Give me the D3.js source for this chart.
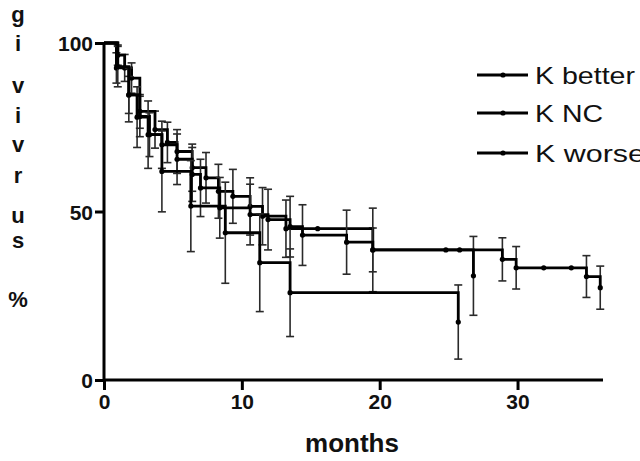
<!DOCTYPE html>
<html><head><meta charset="utf-8">
<script src="https://cdn.jsdelivr.net/npm/d3@7"></script>
<style>body{margin:0;background:#fff}svg{display:block}</style>
</head><body><svg id="c" width="640" height="461"></svg>
<script>
const seriesNames = ["K better", "K NC", "K worse"];

const betterTime = [0, 1.0, 1.5, 2.0, 2.6, 3.7, 4.6, 5.3, 6.4, 7.4, 8.3, 9.35, 10.6, 11.5, 13.2, 19.5, 28.9, 29.9, 35.0, 36.0];
const betterSurv = [100, 96.4, 92.6, 89.6, 79.7, 74.3, 70.5, 67.8, 63, 60, 56, 54.5, 51.5, 48.6, 44.9, 38.6, 35.8, 33.3, 30.7, 27.4];
const betterErr  = [0, 3, 4, 4.5, 5, 5.5, 6, 6.5, 7, 7.5, 8, 8, 8.5, 8.5, 8.5, 6.5, 6.4, 6.3, 6.2, 6.4];
const betterCensor = [15.5, 24.8, 25.8, 31.9, 33.9];

const ncTime = [0, 0.9, 1.8, 2.6, 3.3, 4.2, 5.3, 6.4, 7.0, 8.4, 10.6, 11.9, 13.5, 14.4, 17.6, 19.5, 26.8];
const ncSurv = [100, 92.6, 84.6, 78.2, 72.8, 69.8, 65.5, 61, 57, 51.1, 49.1, 47.6, 45.5, 43, 40.9, 38.6, 30.9];
const ncErr  = [0, 4.5, 5.5, 6, 6.5, 7, 7.5, 8, 8.5, 9, 9, 9, 9, 9, 9.5, 12.4, 11.7];
const ncCensor = [];

const worseTime = [0, 1.0, 1.8, 2.4, 3.2, 4.2, 6.3, 8.8, 11.3, 13.5, 25.7];
const worseSurv = [100, 93, 84.6, 78, 72.8, 61.9, 51.6, 43.7, 34.8, 25.9, 17.2];
const worseErr  = [0, 6, 8, 9, 10, 12, 13.5, 15, 14.5, 13, 11];
const worseCensor = [];

const xTicks = [0, 10, 20, 30];
const yTicks = [0, 50, 100];
const xTitle = "months";
const yTitleLetters = ["g", "i", "v", "i", "v", "r", "u", "s", "%"];

const series = [
  {name: seriesNames[0], t: betterTime, s: betterSurv, e: betterErr, c: betterCensor},
  {name: seriesNames[1], t: ncTime, s: ncSurv, e: ncErr, c: ncCensor},
  {name: seriesNames[2], t: worseTime, s: worseSurv, e: worseErr, c: worseCensor}
];

const svg = d3.select("#c");
const x = d3.scaleLinear().domain([0, 36.2]).range([104, 603]);
const y = d3.scaleLinear().domain([0, 100]).range([380, 43]);

// axes
const xAxis = svg.append("g").attr("transform", `translate(0,${y(0)})`)
  .call(d3.axisBottom(x).tickValues(xTicks).tickSize(10).tickPadding(4).tickFormat(d3.format("d")));
const yAxis = svg.append("g").attr("transform", `translate(${x(0)},0)`)
  .call(d3.axisLeft(y).tickValues(yTicks).tickSize(9).tickPadding(2).tickFormat(d3.format("d")));
[xAxis, yAxis].forEach(a => {
  a.select(".domain").attr("stroke", "#000").attr("stroke-width", 3);
  a.selectAll(".tick line").attr("stroke", "#000").attr("stroke-width", 3);
  a.selectAll(".tick text").attr("fill", "#111").attr("font-family", "Liberation Sans, Arial, sans-serif")
    .attr("font-weight", "bold").attr("font-size", 21);
});
xAxis.select(".domain").attr("d", `M${x(0)},0H${x(36.2)}`);
yAxis.select(".domain").attr("d", `M0,${y(0)}V${y(100)}`);
yAxis.selectAll(".tick text").attr("dy", "0.36em");

// axis titles
svg.append("text").attr("x", 352).attr("y", 452).attr("text-anchor", "middle")
  .attr("font-family", "Liberation Sans, Arial, sans-serif").attr("font-weight", "bold")
  .attr("font-size", 26).attr("fill", "#111").text(xTitle);
const letterY = [22, 51, 93, 123, 152, 183, 223, 248, 307];
svg.append("g").selectAll("text").data(yTitleLetters).join("text")
  .attr("x", 18).attr("y", (d, i) => letterY[i]).attr("text-anchor", "middle")
  .attr("font-family", "Liberation Sans, Arial, sans-serif").attr("font-weight", "bold")
  .attr("font-size", 22).attr("fill", "#111").text(d => d);

const stepLine = d3.line().x(d => x(d[0])).y(d => y(d[1])).curve(d3.curveStepAfter);
function survAt(sr, t) {
  let v = sr.s[0];
  for (let i = 0; i < sr.t.length; i++) if (sr.t[i] <= t) v = sr.s[i];
  return v;
}

const capW = 4;
series.forEach(sr => {
  const g = svg.append("g");
  const pts = sr.t.map((t, i) => [t, sr.s[i], sr.e[i]]);
  const eb = g.append("g").attr("stroke", "#2a2a2a").attr("stroke-width", 1.6);
  pts.slice(1).forEach(p => {
    const xx = x(p[0]), y1 = y(p[1] + p[2]), y2 = y(p[1] - p[2]);
    eb.append("line").attr("x1", xx).attr("x2", xx).attr("y1", y1).attr("y2", y2);
    eb.append("line").attr("x1", xx - capW).attr("x2", xx + capW).attr("y1", y1).attr("y2", y1);
    eb.append("line").attr("x1", xx - capW).attr("x2", xx + capW).attr("y1", y2).attr("y2", y2);
  });
  g.append("path").attr("d", stepLine(pts)).attr("fill", "none").attr("stroke", "#000").attr("stroke-width", 2.8);
  g.selectAll("circle.ev").data(pts.slice(1)).join("circle").attr("class", "ev")
    .attr("cx", d => x(d[0])).attr("cy", d => y(d[1])).attr("r", 2.6).attr("fill", "#000");
  g.selectAll("circle.cn").data(sr.c).join("circle").attr("class", "cn")
    .attr("cx", d => x(d)).attr("cy", d => y(survAt(sr, d))).attr("r", 2.6).attr("fill", "#000");
});

// legend
const legY = [75, 113, 153];
const legW = [100, 68, 110];
const leg = svg.append("g");
series.forEach((sr, i) => {
  leg.append("line").attr("x1", 477).attr("x2", 528).attr("y1", legY[i]).attr("y2", legY[i])
    .attr("stroke", "#000").attr("stroke-width", 2.8);
  leg.append("circle").attr("cx", 503).attr("cy", legY[i]).attr("r", 2.6).attr("fill", "#000");
  leg.append("text").attr("x", 535).attr("y", legY[i] + 8.5)
    .attr("font-family", "Liberation Sans, Arial, sans-serif").attr("font-size", 24).attr("fill", "#111")
    .attr("textLength", legW[i]).attr("lengthAdjust", "spacingAndGlyphs").text(sr.name);
});
</script></body></html>
